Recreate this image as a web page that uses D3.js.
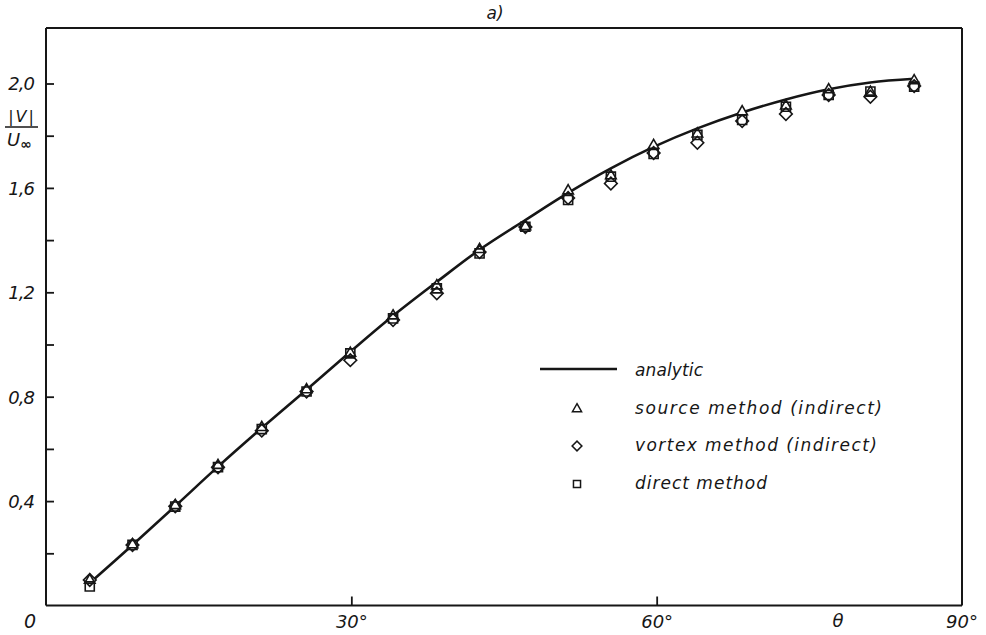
<!DOCTYPE html>
<html><head><meta charset="utf-8">
<script src="https://cdn.jsdelivr.net/npm/d3@7"></script>
<style>
body{margin:0;background:#fff}
text{font-family:"DejaVu Sans","Liberation Sans",sans-serif;font-style:italic;fill:#161616}
</style>
</head><body>
<svg id="c" width="986" height="635"></svg>
<script>
// ---- data ----
const theta = [4.3, 8.5, 12.7, 16.9, 21.2, 25.6, 29.9, 34.1, 38.4, 42.6, 47.1, 51.3, 55.5, 59.7, 64.0, 68.4, 72.7, 76.9, 81.0, 85.3];
const analytic = [0.086, 0.232, 0.381, 0.532, 0.680, 0.827, 0.972, 1.110, 1.240, 1.363, 1.477, 1.581, 1.675, 1.757, 1.828, 1.889, 1.939, 1.978, 2.004, 2.018];
const sourceMethod = [0.100, 0.236, 0.386, 0.540, 0.685, 0.830, 0.970, 1.113, 1.228, 1.367, 1.455, 1.592, 1.650, 1.766, 1.810, 1.895, 1.917, 1.979, 1.970, 2.014];
const vortexMethod = [0.098, 0.232, 0.380, 0.530, 0.670, 0.820, 0.940, 1.094, 1.196, 1.354, 1.450, 1.561, 1.617, 1.734, 1.773, 1.856, 1.883, 1.956, 1.949, 1.990];
const directMethod = [0.073, 0.232, 0.379, 0.530, 0.676, 0.820, 0.966, 1.100, 1.215, 1.349, 1.451, 1.554, 1.643, 1.730, 1.803, 1.860, 1.911, 1.956, 1.969, 1.988];

const yTickValues = [0.2, 0.4, 0.6, 0.8, 1.0, 1.2, 1.4, 1.6, 1.8, 2.0];
const yTickLabels = ["", "0,4", "", "0,8", "", "1,2", "", "1,6", "", "2,0"];
const xTickValues = [30, 60];
const xTickLabels = ["30°", "60°"];
const xDomain = [0, 90];
const yDomain = [0, 2.0];
const yFrameTop = 2.2125;
const legendLabels = ["analytic", "source method (indirect)", "vortex method (indirect)", "direct method"];
const titleText = "a)";

// ---- drawing ----
const svg = d3.select("#c");
const x = d3.scaleLinear().domain(xDomain).range([46, 962]);
const y = d3.scaleLinear().domain(yDomain).range([605.5, 83.5]);
const ink = "#161616";

// frame (top, right)
svg.append("line").attr("x1", x(0)).attr("x2", x(90)).attr("y1", y(yFrameTop)).attr("y2", y(yFrameTop))
  .attr("stroke", ink).attr("stroke-width", 2);
svg.append("line").attr("x1", x(90)).attr("x2", x(90)).attr("y1", y(yFrameTop)).attr("y2", y(0))
  .attr("stroke", ink).attr("stroke-width", 2);

// y axis
const yAxis = d3.axisLeft(y).tickValues(yTickValues).tickSizeInner(-8).tickSizeOuter(0).tickPadding(12)
  .tickFormat((d, i) => yTickLabels[i]);
const gy = svg.append("g").attr("transform", `translate(${x(0)},0)`).call(yAxis);
gy.attr("font-size", null).attr("font-family", null);
gy.select(".domain").attr("stroke", ink).attr("stroke-width", 2)
  .attr("d", `M0,${y(yFrameTop)}V${y(0)}`);
gy.selectAll(".tick line").attr("stroke", ink).attr("stroke-width", 1.8);
gy.selectAll(".tick text").style("font-size", "18px").attr("fill", ink)
  .attr("letter-spacing", -1).attr("dy", "0.36em");

// x axis
const xAxis = d3.axisBottom(x).tickValues(xTickValues).tickSizeInner(-9).tickSizeOuter(0).tickPadding(10)
  .tickFormat((d, i) => xTickLabels[i]);
const gx = svg.append("g").attr("transform", `translate(0,${y(0)})`).call(xAxis);
gx.attr("font-size", null).attr("font-family", null);
gx.select(".domain").attr("stroke", ink).attr("stroke-width", 2).attr("d", `M${x(0)},0H${x(90)}`);
gx.selectAll(".tick line").attr("stroke", ink).attr("stroke-width", 1.8);
gx.selectAll(".tick text").style("font-size", "18px").attr("fill", ink)
  .attr("letter-spacing", 0);

// extra axis texts
svg.append("text").attr("x", x(0) - 16).attr("y", 628).attr("text-anchor", "middle").style("font-size", "19px").text("0");
svg.append("text").attr("x", 838).attr("y", 627).attr("text-anchor", "middle").style("font-size", "18px").text("θ");
svg.append("text").attr("x", x(90)).attr("y", 628).attr("text-anchor", "middle").style("font-size", "18px").text("90°");

// y label |V| / U∞
svg.append("text").attr("x", 22).attr("y", 122).attr("text-anchor", "middle").style("font-size", "16px")
  .attr("letter-spacing", 2).text("|V|");
svg.append("line").attr("x1", 5).attr("x2", 38).attr("y1", 127).attr("y2", 127).attr("stroke", ink).attr("stroke-width", 1.6);
const ul = svg.append("text").attr("x", 7).attr("y", 146).style("font-size", "18px");
ul.append("tspan").text("U");
ul.append("tspan").style("font-size", "14px").attr("font-weight", "bold").attr("dy", 3).text("∞");

// title
svg.append("text").attr("x", 495).attr("y", 19).attr("text-anchor", "middle").style("font-size", "17px").text(titleText);

// analytic curve
const pts = theta.map((t, i) => [t, analytic[i]]);
svg.append("path").datum(pts)
  .attr("d", d3.line().x(d => x(d[0])).y(d => y(d[1])).curve(d3.curveCatmullRom))
  .attr("fill", "none").attr("stroke", ink).attr("stroke-width", 2.6);

// markers
const triPath = d3.symbol(d3.symbolTriangle, 48)();
const sqPath = d3.symbol(d3.symbolSquare, 82)();
const diaPath = d3.symbol(d3.symbolSquare, 80)();
const series = [
  {vals: directMethod, path: sqPath, rot: 0, dy: 0},
  {vals: vortexMethod, path: diaPath, rot: 45, dy: 0},
  {vals: sourceMethod, path: triPath, rot: 0, dy: 0.8}
];
const bg = svg.append("g"), fg = svg.append("g");
series.forEach(s => {
  s.vals.forEach((v, i) => {
    const tr = `translate(${x(theta[i])},${y(v) + s.dy}) rotate(${s.rot})`;
    bg.append("path").attr("d", s.path).attr("transform", tr).attr("fill", "#fff").attr("stroke", "none");
    fg.append("path").attr("d", s.path).attr("transform", tr).attr("fill", "none").attr("stroke", ink).attr("stroke-width", 1.6);
  });
});

// legend
const lg = svg.append("g");
lg.append("line").attr("x1", 540).attr("x2", 617).attr("y1", 369).attr("y2", 369).attr("stroke", ink).attr("stroke-width", 2.6);
const lgMarks = [null, {p: d3.symbol(d3.symbolTriangle, 36)(), r: 0}, {p: d3.symbol(d3.symbolSquare, 48)(), r: 45}, {p: d3.symbol(d3.symbolSquare, 50)(), r: 0}];
const lgBase = [376, 414, 451, 489];
const lgWidth = [68, 247, 242, 132];
legendLabels.forEach((lab, i) => {
  lg.append("text").attr("x", 635).attr("y", lgBase[i]).style("font-size", "17px")
    .attr("textLength", lgWidth[i]).attr("lengthAdjust", "spacing").text(lab);
  if (lgMarks[i]) {
    lg.append("path").attr("d", lgMarks[i].p)
      .attr("transform", `translate(577,${lgBase[i] - 5}) rotate(${lgMarks[i].r})`)
      .attr("fill", "none").attr("stroke", ink).attr("stroke-width", 1.5);
  }
});
</script>
</body></html>
